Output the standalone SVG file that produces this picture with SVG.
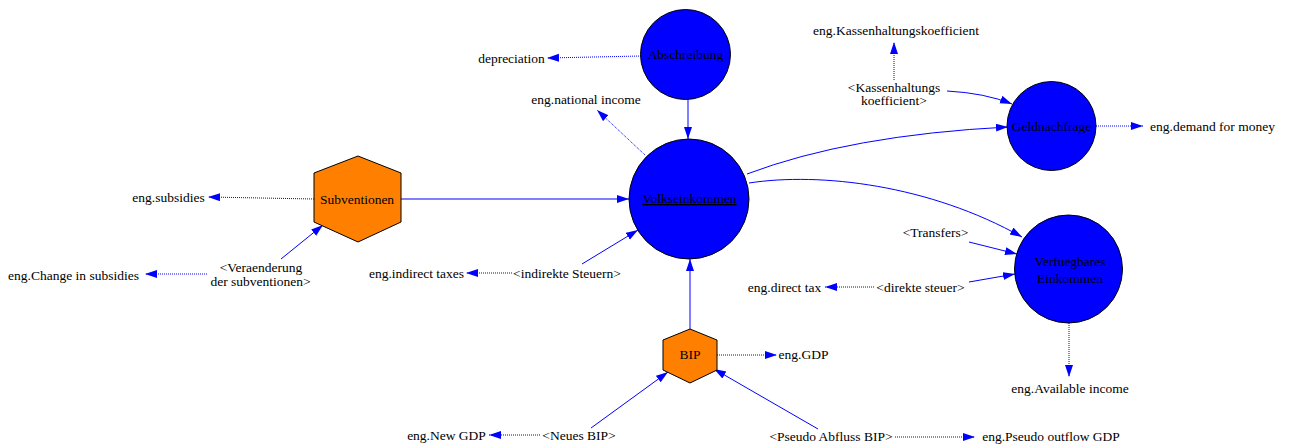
<svg xmlns="http://www.w3.org/2000/svg" width="1289" height="448" viewBox="0 0 1289 448">
<style>
text{font-family:'Liberation Serif','DejaVu Serif',serif;font-size:13.5px;fill:#000;text-anchor:middle}
.c{fill:#0000ff;stroke:#000;stroke-width:1}
.h{fill:#ff8000;stroke:#000;stroke-width:1}
.s{fill:none;stroke:#0000ff;stroke-width:1;marker-end:url(#a)}
.d{fill:none;stroke:#0000ff;stroke-width:1;stroke-dasharray:1,1;marker-end:url(#a)}
</style>
<defs>
<marker id="a" markerUnits="userSpaceOnUse" markerWidth="13" markerHeight="9" refX="12" refY="4" orient="auto">
<path d="M0,0 L12,4 L0,8 z" fill="#0000ff"/>
</marker>
</defs>
<g id="connectors">
<path class="d" d="M641,56 L547,58"/>
<path class="s" d="M688,99 L688,139"/>
<path class="d" d="M645,155 L597,110"/>
<path class="s" d="M401,199 L629,199"/>
<path class="d" d="M314,199 L208,197"/>
<path class="s" d="M281,259 L323,225"/>
<path class="d" d="M207,274 L145,274"/>
<path class="s" d="M582,264 L638,230"/>
<path class="d" d="M512,273 L466,273"/>
<path class="s" d="M690,329 L690,259"/>
<path class="d" d="M717,355 L777,355"/>
<path class="s" d="M591,428 L668,372"/>
<path class="d" d="M540,435 L489,435"/>
<path class="s" d="M818,429 L714,369"/>
<path class="d" d="M895,437 L975,437"/>
<path class="d" d="M894,80 L894,42"/>
<path class="s" d="M947,91 Q985,93 1012,104"/>
<path class="d" d="M1096,126 L1143,126"/>
<path class="s" d="M747,174 Q850,135 1008,127"/>
<path class="s" d="M749,183 C820,172 930,185 1022,237"/>
<path class="s" d="M969,242 L1017,254"/>
<path class="s" d="M969,282 L1015,274"/>
<path class="d" d="M874,287 L825,287"/>
<path class="d" d="M1069,323 L1069,377"/>
</g>
<g id="abschreibung"><circle class="c" cx="685.5" cy="54.5" r="45"/><text x="685.5" y="59">Abschreibung</text></g>
<g id="volkseinkommen"><circle class="c" cx="689" cy="199" r="60"/><text x="689.5" y="203" text-decoration="underline">Volkseinkommen</text></g>
<g id="geldnachfrage"><circle class="c" cx="1051.5" cy="126" r="44.5"/><text x="1051.5" y="131">Geldnachfrage</text></g>
<g id="verfuegbares"><circle class="c" cx="1068.5" cy="269" r="54"/><text x="1070" y="266">Verfuegbares</text><text x="1070" y="283">Einkommen</text></g>
<g id="subventionen"><polygon class="h" points="358,156 401,173 401,222 358,242 314,222 314,173"/><text x="357" y="204">Subventionen</text></g>
<g id="bip"><polygon class="h" points="690,329 717,340 717,370 690,383 663,370 663,340"/><text x="690" y="359">BIP</text></g>
<g id="depreciation"><text x="511.5" y="63">depreciation</text></g>
<g id="national-income"><text x="586" y="104">eng.national income</text></g>
<g id="subsidies"><text x="168.5" y="202">eng.subsidies</text></g>
<g id="veraenderung"><text x="261" y="272">&lt;Veraenderung</text><text x="260.5" y="286">der subventionen&gt;</text></g>
<g id="change-subsidies"><text x="73.5" y="280">eng.Change in subsidies</text></g>
<g id="indirekte"><text x="567" y="278">&lt;indirekte Steuern&gt;</text></g>
<g id="indirect-taxes"><text x="416.5" y="278">eng.indirect taxes</text></g>
<g id="gdp"><text x="803.5" y="359">eng.GDP</text></g>
<g id="neues-bip"><text x="579" y="440">&lt;Neues BIP&gt;</text></g>
<g id="new-gdp"><text x="446.5" y="440">eng.New GDP</text></g>
<g id="pseudo"><text x="831" y="441">&lt;Pseudo Abfluss BIP&gt;</text></g>
<g id="pseudo-gdp"><text x="1051" y="441">eng.Pseudo outflow GDP</text></g>
<g id="kassen-eng"><text x="896" y="35">eng.Kassenhaltungskoefficient</text></g>
<g id="kassen"><text x="894" y="92">&lt;Kassenhaltungs</text><text x="894" y="105">koefficient&gt;</text></g>
<g id="demand"><text x="1212.5" y="131">eng.demand for money</text></g>
<g id="transfers"><text x="935.5" y="237">&lt;Transfers&gt;</text></g>
<g id="direkte"><text x="920.5" y="292">&lt;direkte steuer&gt;</text></g>
<g id="direct-tax"><text x="784.5" y="292">eng.direct tax</text></g>
<g id="available"><text x="1070" y="393">eng.Available income</text></g>
</svg>
